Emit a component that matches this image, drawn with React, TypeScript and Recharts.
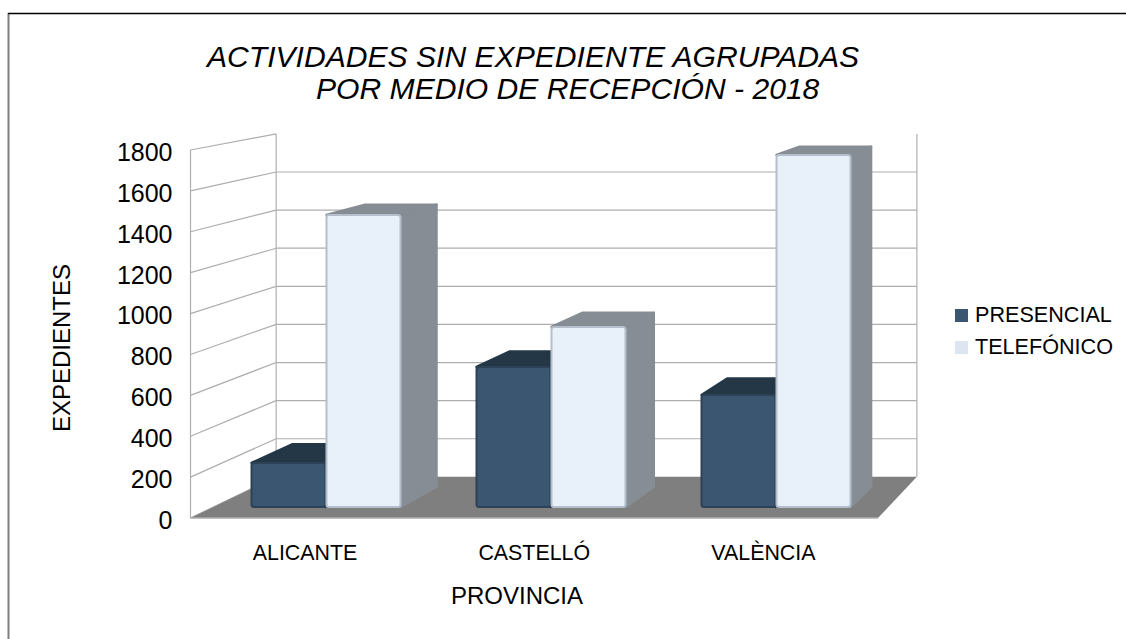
import React from 'react';
import { BarChart, Bar, XAxis, YAxis, Legend } from 'recharts';

const provinces = ['ALICANTE', 'CASTELLÓ', 'VALÈNCIA'];
const presencial = [220, 700, 560];
const telefonico = [1460, 900, 1760];
const yTicks = [0, 200, 400, 600, 800, 1000, 1200, 1400, 1600, 1800];

const data = provinces.map((name, i) => ({
  name,
  PRESENCIAL: presencial[i],
  TELEFONICO: telefonico[i],
}));

const FONT = '"Liberation Sans", Arial, sans-serif';

// front plane of the plot, and the point every depth line runs to
const LEFT = 190.5;
const FRONT_RIGHT = 878;
const PLOT_TOP = 150;
const PLOT_BOTTOM = 518;
const VP = { x: 1450, y: -87 };
const WALL_DEPTH = 0.068;
const BAR_DEPTH = 0.0343;

const toBack = (x: number, y: number, f: number) => ({
  x: x + (VP.x - x) * f,
  y: y + (VP.y - y) * f,
});

const frontY = (v: number) => PLOT_BOTTOM - (v * (PLOT_BOTTOM - PLOT_TOP)) / 1800;
const poly = (pts: { x: number; y: number }[]) => pts.map((p) => `${p.x},${p.y}`).join(' ');

const Walls = () => {
  const backLeft = toBack(LEFT, PLOT_BOTTOM, WALL_DEPTH).x;
  const backRight = toBack(FRONT_RIGHT, PLOT_BOTTOM, WALL_DEPTH).x;
  const backTop = toBack(LEFT, frontY(1800), WALL_DEPTH).y;
  const backBottom = toBack(LEFT, PLOT_BOTTOM, WALL_DEPTH).y;
  const gridColor = '#aeaeae';
  return (
    <g>
      {yTicks.map((t) => {
        const back = toBack(LEFT, frontY(t), WALL_DEPTH);
        return (
          <g key={t}>
            <line x1={LEFT} y1={frontY(t)} x2={back.x} y2={back.y} stroke={gridColor} strokeWidth={1.2} />
            {t !== 1800 && t !== 0 && (
              <line x1={back.x} y1={back.y} x2={backRight} y2={back.y} stroke={gridColor} strokeWidth={1.2} />
            )}
          </g>
        );
      })}
      <line x1={LEFT} y1={PLOT_TOP} x2={LEFT} y2={PLOT_BOTTOM} stroke={gridColor} strokeWidth={1.2} />
      <line x1={backLeft} y1={backTop} x2={backLeft} y2={backBottom} stroke={gridColor} strokeWidth={1.2} />
      <line x1={backRight} y1={backTop} x2={backRight} y2={backBottom} stroke={gridColor} strokeWidth={1.2} />
      <polygon
        points={poly([
          { x: LEFT, y: PLOT_BOTTOM },
          { x: backLeft, y: backBottom },
          { x: backRight, y: backBottom },
          { x: FRONT_RIGHT, y: PLOT_BOTTOM },
        ])}
        fill="#7f7f7f"
      />
      <line x1={LEFT} y1={PLOT_BOTTOM} x2={FRONT_RIGHT} y2={PLOT_BOTTOM} stroke={gridColor} strokeWidth={1.5} />
    </g>
  );
};

// bar with a top and a side face running back towards the vanishing point
const Bar3D = (props: any) => {
  const { x, y, width, height, fill, edge, topFill, sideFill } = props;
  const r = x + width;
  const b = y + height;
  const tl = toBack(x, y, BAR_DEPTH);
  const tr = toBack(r, y, BAR_DEPTH);
  const br = toBack(r, b, BAR_DEPTH);
  return (
    <g>
      <polygon
        points={poly([{ x: r, y }, tr, br, { x: r, y: b }])}
        fill={sideFill}
        stroke={sideFill}
        strokeWidth={2.5}
        strokeLinejoin="round"
      />
      <polygon
        points={poly([{ x, y }, tl, tr, { x: r, y }])}
        fill={topFill}
        stroke={topFill}
        strokeWidth={2.5}
        strokeLinejoin="round"
      />
      <rect x={x} y={y} width={width} height={height} rx={2.5} fill={fill} stroke={edge} strokeWidth={2} />
    </g>
  );
};

const legendItems = [
  { label: 'PRESENCIAL', color: '#3a5670' },
  { label: 'TELEFÓNICO', color: '#dde6f0' },
];

const LegendBox = () => (
  <div style={{ fontFamily: FONT, fontSize: 21.6, color: '#000', lineHeight: '32px' }}>
    {legendItems.map((item) => (
      <div key={item.label} style={{ display: 'flex', alignItems: 'center', whiteSpace: 'nowrap' }}>
        <span style={{ width: 13, height: 13, background: item.color, marginRight: 7, display: 'inline-block' }} />
        {item.label}
      </div>
    ))}
  </div>
);

const App = () => {
  return (
    <div style={{ position: 'absolute', left: 0, top: 0, width: 1126, height: 639, background: '#fff' }}>
      <BarChart
        width={1126}
        height={639}
        data={data}
        margin={{ top: 150, right: 237.5, bottom: 61, left: 130.5 }}
        barSize={74}
        barGap={1}
      >
        <line x1={8.5} y1={13} x2={8.5} y2={639} stroke="#7f7f7f" strokeWidth={2} />
        <line x1={8} y1={13.5} x2={1126} y2={13.5} stroke="#000" strokeWidth={1.5} />
        <Walls />
        <XAxis
          xAxisId="labels"
          dataKey="name"
          height={60}
          padding={{ left: 0, right: 10.5 }}
          axisLine={false}
          tickLine={false}
          tickMargin={21}
          interval={0}
          tick={{ fill: '#000', fontSize: 21.4, fontFamily: FONT }}
        />
        <XAxis xAxisId="bars" dataKey="name" hide height={0} padding={{ left: 23, right: 0 }} />
        <YAxis
          yAxisId="labels"
          type="number"
          width={60}
          domain={[0, 1800]}
          allowDataOverflow
          ticks={yTicks}
          interval={0}
          axisLine={false}
          tickLine={false}
          tickMargin={12}
          tick={{ fill: '#000', fontSize: 25, fontFamily: FONT, dy: 2 }}
        />
        <YAxis yAxisId="bars" type="number" hide width={0} domain={[-55, 1785]} />
        <Legend
          layout="vertical"
          align="center"
          verticalAlign="middle"
          content={<LegendBox />}
          wrapperStyle={{ position: 'absolute', left: 955, top: 299, width: 170, bottom: 'auto' }}
        />
        <Bar
          dataKey="PRESENCIAL"
          xAxisId="bars"
          yAxisId="bars"
          fill="#3a5670"
          isAnimationActive={false}
          shape={(p: any) => <Bar3D {...p} edge="#2c4257" topFill="#243746" sideFill="#243746" />}
        />
        <Bar
          dataKey="TELEFONICO"
          xAxisId="bars"
          yAxisId="bars"
          fill="#e8f0fa"
          isAnimationActive={false}
          shape={(p: any) => <Bar3D {...p} edge="#b4bfcb" topFill="#868d94" sideFill="#868d94" />}
        />
        <text x={207} y={67} fontFamily={FONT} fontStyle="italic" fontSize={30.1} fill="#000">
          ACTIVIDADES SIN EXPEDIENTE AGRUPADAS
        </text>
        <text x={316} y={99} fontFamily={FONT} fontStyle="italic" fontSize={30.1} fill="#000">
          POR MEDIO DE RECEPCIÓN - 2018
        </text>
        <text
          x={64}
          y={348}
          transform="rotate(-90 64 348)"
          textAnchor="middle"
          dominantBaseline="middle"
          fontFamily={FONT}
          fontSize={24}
          fill="#000"
        >
          EXPEDIENTES
        </text>
        <text x={517} y={604} textAnchor="middle" fontFamily={FONT} fontSize={24} fill="#000">
          PROVINCIA
        </text>
      </BarChart>
    </div>
  );
};

export default App;
